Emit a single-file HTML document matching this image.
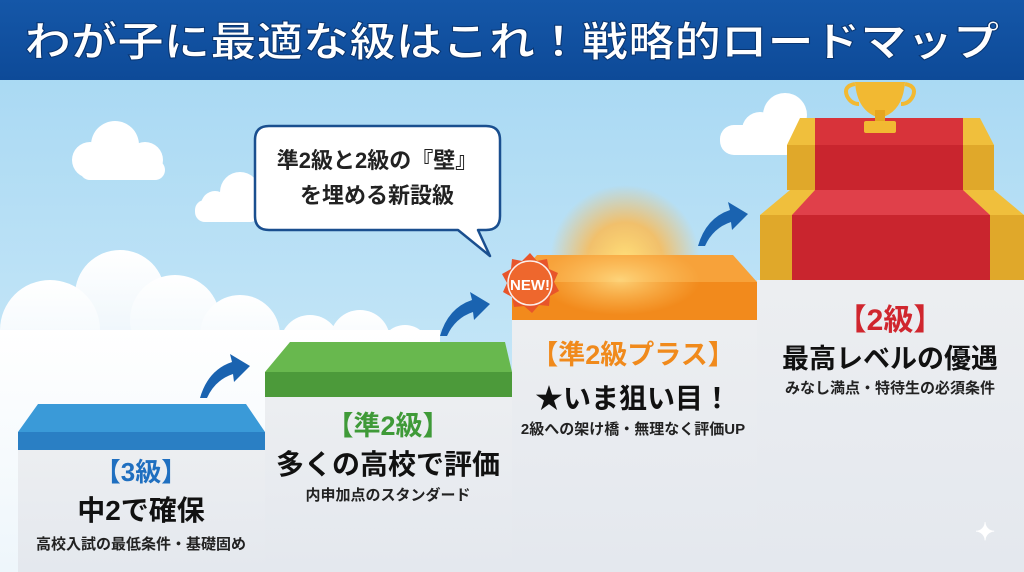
<!DOCTYPE html>
<html><head><meta charset="utf-8"><style>
html,body{margin:0;padding:0;width:1024px;height:572px;overflow:hidden}
svg{display:block}
text{font-family:"Liberation Sans","Noto Sans CJK JP",sans-serif;font-weight:bold}
</style></head><body>
<svg width="1024" height="572" viewBox="0 0 1024 572" xmlns="http://www.w3.org/2000/svg">
<defs>
<linearGradient id="sky" x1="0" y1="0" x2="0" y2="1"><stop offset="0" stop-color="#a3d6f2"/><stop offset="1" stop-color="#d6eefa"/></linearGradient>
<linearGradient id="bar" x1="0" y1="0" x2="0" y2="1"><stop offset="0" stop-color="#1557a8"/><stop offset="1" stop-color="#0d4a98"/></linearGradient>
<radialGradient id="sun" cx="0.5" cy="0.5" r="0.5"><stop offset="0" stop-color="#ffe07a"/><stop offset="0.5" stop-color="#ffb84a" stop-opacity="0.8"/><stop offset="1" stop-color="#ffb84a" stop-opacity="0"/></radialGradient>
<radialGradient id="glow" cx="0.5" cy="0.5" r="0.5"><stop offset="0" stop-color="#ffe08a" stop-opacity="0.8"/><stop offset="1" stop-color="#ffd070" stop-opacity="0"/></radialGradient>
<linearGradient id="body" x1="0" y1="0" x2="0" y2="1"><stop offset="0" stop-color="#eceef1"/><stop offset="1" stop-color="#e4e8ee"/></linearGradient>
<linearGradient id="cl" x1="0" y1="0" x2="0" y2="1"><stop offset="0" stop-color="#fff"/><stop offset="1" stop-color="#eef6fb"/></linearGradient>
</defs>
<rect width="1024" height="572" fill="url(#sky)"/>
<!-- clouds -->
<g fill="#fff">
<circle cx="90" cy="160" r="18"/><circle cx="115" cy="145" r="24"/><circle cx="145" cy="160" r="18"/><rect x="80" y="160" width="85" height="20" rx="10"/>
<circle cx="215" cy="205" r="14"/><circle cx="240" cy="192" r="20"/><rect x="195" y="200" width="65" height="22" rx="10"/>
<circle cx="760" cy="130" r="18"/><circle cx="785" cy="115" r="22"/><rect x="720" y="125" width="80" height="30" rx="14"/>
</g>
<g fill="url(#cl)">
<circle cx="120" cy="295" r="45"/><circle cx="50" cy="330" r="50"/><circle cx="175" cy="320" r="45"/><circle cx="240" cy="335" r="40"/><circle cx="310" cy="345" r="30"/><circle cx="360" cy="340" r="30"/><circle cx="405" cy="350" r="25"/>
<rect x="0" y="330" width="440" height="242"/>
</g>
<circle cx="625" cy="260" r="75" fill="url(#sun)"/>
<!-- title bar -->
<rect width="1024" height="80" fill="url(#bar)"/>
<text x="512" y="56" font-size="41" fill="#fff" text-anchor="middle" stroke="#0a3570" stroke-width="1" textLength="975" lengthAdjust="spacingAndGlyphs">わが子に最適な級はこれ！戦略的ロードマップ</text>
<!-- step 1 -->
<rect x="18" y="450" width="247" height="122" fill="url(#body)"/>
<polygon points="38,404 246,404 265,432 18,432" fill="#3a9ad8"/>
<rect x="18" y="432" width="247" height="18" fill="#2a7fc4"/>
<!-- step 2 -->
<rect x="265" y="397" width="247" height="175" fill="url(#body)"/>
<polygon points="290,342 505,342 512,372 265,372" fill="#68b84e"/>
<rect x="265" y="372" width="247" height="25" fill="#4c9a3a"/>
<!-- step 3 -->
<rect x="512" y="320" width="245" height="252" fill="url(#body)"/>
<polygon points="537,255 733,255 757,282 512,282" fill="#f7a23a"/>
<rect x="512" y="282" width="245" height="38" fill="#f28a1c"/>
<ellipse cx="620" cy="280" rx="80" ry="35" fill="url(#glow)"/>
<!-- step 4 -->
<rect x="757" y="280" width="267" height="292" fill="url(#body)"/>
<polygon points="760,215 790,190 994,190 1024,215" fill="#f0bf3c"/>
<rect x="760" y="215" width="264" height="65" fill="#e0a82a"/>
<polygon points="787,145 800,118 980,118 994,145" fill="#f0bf3c"/>
<rect x="787" y="145" width="207" height="45" fill="#e0a82a"/>
<polygon points="815,118 963,118 963,145 815,145" fill="#d8333a"/>
<rect x="815" y="145" width="148" height="45" fill="#c9252e"/>
<polygon points="815,190 963,190 990,215 792,215" fill="#e0404a"/>
<rect x="792" y="215" width="198" height="65" fill="#c9252e"/>
<!-- trophy -->
<path d="M855,82 h50 q-2,30 -25,36 q-23,-6 -25,-36z" fill="#f2b932"/>
<rect x="875" y="110" width="10" height="12" fill="#e5a620"/>
<rect x="864" y="121" width="32" height="12" rx="2" fill="#f2b932"/>
<path d="M855,84 q-12,2 -8,12 q4,8 12,8" fill="none" stroke="#f2b932" stroke-width="4"/>
<path d="M905,84 q12,2 8,12 q-4,8 -12,8" fill="none" stroke="#f2b932" stroke-width="4"/>
<!-- arrows -->
<g fill="#1a63b0">
<path d="M200,398 q8,-28 32,-36 l-2,-8 l20,12 l-16,16 l-1,-8 q-18,6 -26,24z"/>
<path d="M440,336 q8,-28 32,-36 l-2,-8 l20,12 l-16,16 l-1,-8 q-18,6 -26,24z"/>
<path d="M698,246 q8,-28 32,-36 l-2,-8 l20,12 l-16,16 l-1,-8 q-18,6 -26,24z"/>
</g>
<!-- speech bubble -->
<path d="M269,126 h217 q14,0 14,14 v76 q0,14 -14,14 h-8 l12,26 l-32,-26 h-189 q-14,0 -14,-14 v-76 q0,-14 14,-14z" fill="#fff" stroke="#1a4f8f" stroke-width="2.5" stroke-linejoin="round"/>
<text x="377" y="168" font-size="22" fill="#222" text-anchor="middle">準2級と2級の『壁』</text>
<text x="377" y="203" font-size="22" fill="#222" text-anchor="middle">を埋める新設級</text>
<!-- NEW badge -->
<polygon points="530,253 537,261 547,259 549,269 558,273 554,282 559,291 550,296 549,306 539,305 532,313 524,306 514,307 512,297 503,292 507,283 502,274 511,269 512,259 522,261" fill="#e8552a"/>
<circle cx="530" cy="283" r="22" fill="#ef6a2e" stroke="#fff" stroke-width="1.5" opacity="0.9"/>
<text x="530" y="290" font-size="15" fill="#fff" text-anchor="middle">NEW!</text>
<!-- texts -->
<text x="141" y="481" font-size="26" fill="#1f6fc0" text-anchor="middle">【3級】</text>
<text x="141" y="520" font-size="28" fill="#111" text-anchor="middle">中2で確保</text>
<text x="141" y="549" font-size="15" fill="#222" text-anchor="middle">高校入試の最低条件・基礎固め</text>
<text x="388" y="435" font-size="27" fill="#3f9a38" text-anchor="middle">【準2級】</text>
<text x="388" y="474" font-size="28" fill="#111" text-anchor="middle">多くの高校で評価</text>
<text x="388" y="500" font-size="15" fill="#222" text-anchor="middle">内申加点のスタンダード</text>
<text x="633" y="364" font-size="27" fill="#f08a1c" text-anchor="middle">【準2級プラス】</text>
<text x="633" y="408" font-size="28" fill="#111" text-anchor="middle">★いま狙い目！</text>
<text x="633" y="434" font-size="15" fill="#222" text-anchor="middle">2級への架け橋・無理なく評価UP</text>
<text x="890" y="330" font-size="30" fill="#d0262e" text-anchor="middle">【2級】</text>
<text x="890" y="368" font-size="27" fill="#111" text-anchor="middle">最高レベルの優遇</text>
<text x="890" y="393" font-size="15" fill="#222" text-anchor="middle">みなし満点・特待生の必須条件</text>
<text x="985" y="540" font-size="24" fill="#fff" text-anchor="middle">✦</text>
</svg>
</body></html>
